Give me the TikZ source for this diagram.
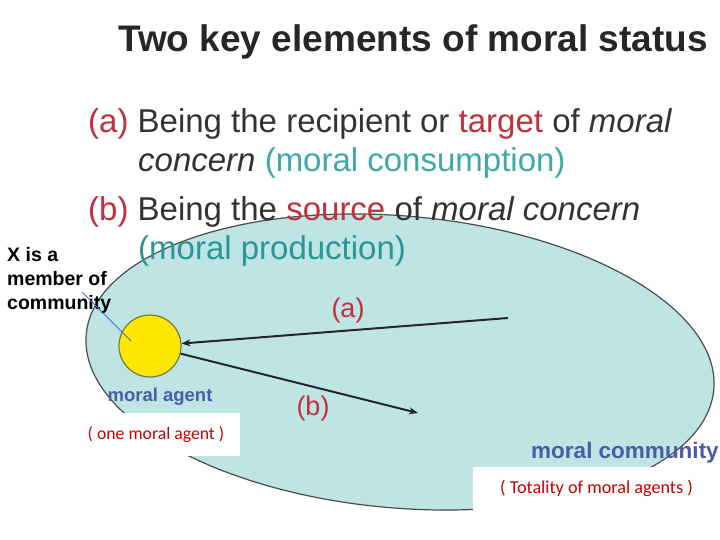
\documentclass[tikz,border=0pt]{standalone}
\usepackage{fontspec}
\setmainfont{Liberation Sans}
\newfontfamily\boxfont{Carlito}
\usetikzlibrary{arrows.meta}
\definecolor{darkred}{HTML}{C0303C}
\definecolor{boxred}{HTML}{C80000}
\definecolor{lightteal}{HTML}{3FA8A8}
\definecolor{darkteal}{HTML}{2C9696}
\definecolor{commfill}{HTML}{BEE4E4}
\definecolor{agentblue}{HTML}{4B5BA8}
\definecolor{pointer}{HTML}{4472C4}

\begin{document}
\begin{tikzpicture}[x=1pt,y=-1pt]
\useasboundingbox[fill=white] (0,0) rectangle (720,540);
% community and agent
\draw[fill=commfill, draw=black!70, line width=1.2pt, rotate around={-5:(400,362)}] (400,362) ellipse (315 and 146);
\node[circle, fill=yellow!90!orange, draw=black!60!yellow, line width=1.2pt, minimum size=62, inner sep=0] (agent) at (150,346) {};
% heading and the two elements
\node[anchor=base west, inner sep=0, font=\bfseries\fontsize{37}{42}\selectfont, text=black!85] (title) at (118,52) {Two key elements of moral status};
\node[anchor=base west, inner sep=0, font=\fontsize{33}{38}\selectfont, text=black!80] (itema) at (88,133) {\textcolor{darkred}{(a)} Being the recipient or \textcolor{darkred}{target} of \textit{moral}};
\node[anchor=base west, inner sep=0, font=\fontsize{33}{38}\selectfont, text=black!80] (itemaa) at (138,172) {\textit{concern} \textcolor{lightteal}{(moral consumption)}};
\node[anchor=base west, inner sep=0, font=\fontsize{33}{38}\selectfont, text=black!80] (itemb) at (88,221) {\textcolor{darkred}{(b)} Being the \textcolor{darkred}{source} of \textit{moral concern}};
\node[anchor=base west, inner sep=0, font=\fontsize{33}{38}\selectfont, text=darkteal] (itembb) at (138,259) {(moral production)};
% arrows
\coordinate (afrom) at (508,318);
\coordinate (bto) at (418,413);
\draw[-{Stealth[length=9pt,width=7pt]}, line width=2pt, black!85] (afrom) -- (agent);
\node[font=\fontsize{27}{30}\selectfont, text=darkred] (la) at (348,311) {(a)};
\node[font=\fontsize{27}{30}\selectfont, text=darkred] (lb) at (313,409) {(b)};
\draw[-{Stealth[length=9pt,width=7pt]}, line width=2pt, black!85] (agent) -- (bto);
\node[font=\bfseries\fontsize{18.5}{20}\selectfont, text=agentblue] (agentlbl) at (160,397) {moral agent};
\node[font=\bfseries\fontsize{22.5}{25}\selectfont, text=agentblue] (commlbl) at (625,453) {moral community};
% white label boxes
\node[fill=white, minimum width=168, minimum height=43, font=\boxfont\fontsize{17.7}{20}\selectfont, text=boxred] (onebox) at (156,434.5) {( one moral agent )};
\node[fill=white, minimum width=247, minimum height=43, font=\boxfont\fontsize{18.2}{20}\selectfont, text=boxred] (allbox) at (596.5,488.5) {( Totality of moral agents )};
% member note
\node[anchor=north west, inner sep=0, align=left, font=\bfseries\fontsize{19.5}{24}\selectfont] (member) at (7,247) {X is a\\member of\\community};
\coordinate (mfoot) at (82,292);
\draw[pointer, line width=1pt] (mfoot) -- (131,341);
\end{tikzpicture}
\end{document}
